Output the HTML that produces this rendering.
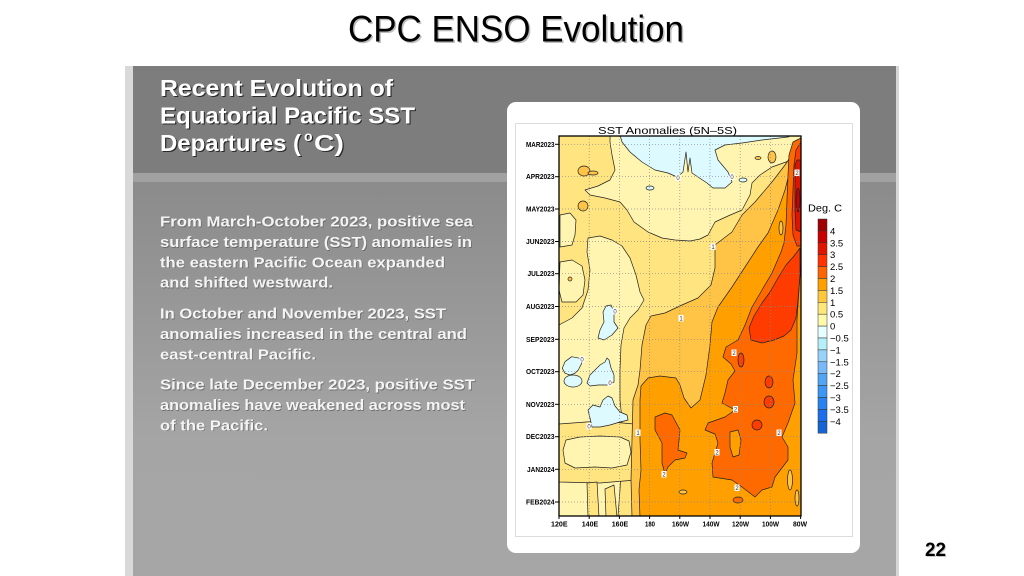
<!DOCTYPE html>
<html>
<head>
<meta charset="utf-8">
<style>
html,body{margin:0;padding:0;background:#fff;}
svg{display:block;}
</style>
</head>
<body>
<svg xmlns="http://www.w3.org/2000/svg" width="1024" height="576" viewBox="0 0 1024 576">
<defs>
<linearGradient id="bodyg" x1="0" y1="0" x2="0" y2="1">
<stop offset="0" stop-color="#8b8b8b"/>
<stop offset="0.65" stop-color="#a5a5a5"/>
<stop offset="1" stop-color="#a6a6a6"/>
</linearGradient>
<clipPath id="pc"><rect x="559" y="136" width="242" height="380"/></clipPath>
</defs>

<rect x="0" y="0" width="1024" height="576" fill="#ffffff"/>

<!-- gray panel -->
<rect x="125" y="66" width="8" height="510" fill="#d9d9d9"/>
<rect x="896" y="66" width="3" height="510" fill="#d6d6d6"/>
<rect x="133" y="66" width="763" height="107" fill="#7d7d7d"/>
<rect x="133" y="173" width="763" height="9" fill="#a1a1a1"/>
<rect x="133" y="182" width="763" height="394" fill="url(#bodyg)"/>

<!-- slide title -->
<text x="349.5" y="43" font-family="Liberation Sans, sans-serif" font-size="37" fill="#bdbdbd" textLength="336" lengthAdjust="spacingAndGlyphs">CPC ENSO Evolution</text>
<text x="348" y="41.5" font-family="Liberation Sans, sans-serif" font-size="37" fill="#000" textLength="336" lengthAdjust="spacingAndGlyphs">CPC ENSO Evolution</text>

<!-- heading -->
<g font-family="Liberation Sans, sans-serif" font-weight="bold" font-size="23">
<g fill="#2a2a2a" transform="translate(1.2,1.2)">
<text x="160" y="96" textLength="233" lengthAdjust="spacingAndGlyphs">Recent Evolution of</text>
<text x="160" y="123.5" textLength="255" lengthAdjust="spacingAndGlyphs">Equatorial Pacific SST</text>
<text x="160" y="151" textLength="141" lengthAdjust="spacingAndGlyphs">Departures (</text>
<text x="304" y="141" font-size="14">o</text>
<text x="314" y="151" textLength="30" lengthAdjust="spacingAndGlyphs">C)</text>
</g>
<g fill="#ffffff">
<text x="160" y="96" textLength="233" lengthAdjust="spacingAndGlyphs">Recent Evolution of</text>
<text x="160" y="123.5" textLength="255" lengthAdjust="spacingAndGlyphs">Equatorial Pacific SST</text>
<text x="160" y="151" textLength="141" lengthAdjust="spacingAndGlyphs">Departures (</text>
<text x="304" y="141" font-size="14">o</text>
<text x="314" y="151" textLength="30" lengthAdjust="spacingAndGlyphs">C)</text>
</g>
</g>

<!-- body text -->
<g font-family="Liberation Sans, sans-serif" font-weight="bold" font-size="15">
<g fill="#5a5a5a" transform="translate(0.8,0.8)" opacity="0.7">
<text x="160" y="226.5" textLength="313" lengthAdjust="spacingAndGlyphs">From March-October 2023, positive sea</text>
<text x="160" y="247" textLength="312" lengthAdjust="spacingAndGlyphs">surface temperature (SST) anomalies in</text>
<text x="160" y="267.3" textLength="285" lengthAdjust="spacingAndGlyphs">the eastern Pacific Ocean expanded</text>
<text x="160" y="287.5" textLength="173" lengthAdjust="spacingAndGlyphs">and shifted westward.</text>
<text x="160" y="318.5" textLength="286" lengthAdjust="spacingAndGlyphs">In October and November 2023, SST</text>
<text x="160" y="339" textLength="307" lengthAdjust="spacingAndGlyphs">anomalies increased in the central and</text>
<text x="160" y="359.3" textLength="156" lengthAdjust="spacingAndGlyphs">east-central Pacific.</text>
<text x="160" y="389.5" textLength="315" lengthAdjust="spacingAndGlyphs">Since late December 2023, positive SST</text>
<text x="160" y="410" textLength="305" lengthAdjust="spacingAndGlyphs">anomalies have weakened across most</text>
<text x="160" y="430.3" textLength="108" lengthAdjust="spacingAndGlyphs">of the Pacific.</text>
</g>
<g fill="#f4f4f4">
<text x="160" y="226.5" textLength="313" lengthAdjust="spacingAndGlyphs">From March-October 2023, positive sea</text>
<text x="160" y="247" textLength="312" lengthAdjust="spacingAndGlyphs">surface temperature (SST) anomalies in</text>
<text x="160" y="267.3" textLength="285" lengthAdjust="spacingAndGlyphs">the eastern Pacific Ocean expanded</text>
<text x="160" y="287.5" textLength="173" lengthAdjust="spacingAndGlyphs">and shifted westward.</text>
<text x="160" y="318.5" textLength="286" lengthAdjust="spacingAndGlyphs">In October and November 2023, SST</text>
<text x="160" y="339" textLength="307" lengthAdjust="spacingAndGlyphs">anomalies increased in the central and</text>
<text x="160" y="359.3" textLength="156" lengthAdjust="spacingAndGlyphs">east-central Pacific.</text>
<text x="160" y="389.5" textLength="315" lengthAdjust="spacingAndGlyphs">Since late December 2023, positive SST</text>
<text x="160" y="410" textLength="305" lengthAdjust="spacingAndGlyphs">anomalies have weakened across most</text>
<text x="160" y="430.3" textLength="108" lengthAdjust="spacingAndGlyphs">of the Pacific.</text>
</g>
</g>

<!-- white chart box -->
<rect x="507" y="102" width="353" height="451" rx="9" ry="9" fill="#ffffff"/>
<rect x="515.5" y="123.5" width="337" height="413" fill="none" stroke="#dcdcdc" stroke-width="1"/>

<!-- chart title -->
<text x="598" y="134" font-family="Liberation Sans, sans-serif" font-size="10.5" fill="#000" textLength="139" lengthAdjust="spacingAndGlyphs">SST Anomalies (5N–5S)</text>

<!-- plot fills -->
<g clip-path="url(#pc)" stroke="#222" stroke-width="0.7" stroke-linejoin="round">
<rect x="559" y="136" width="242" height="380" fill="#ffe480" stroke="none"/>

<!-- pale 0-0.5 -->
<polygon fill="#fff5b0" points="610,136 801,136 801,156 786,162 772,167 760,175 752,183 750,195 742,210 728,216 715,222 708,235 700,239 690,241 675,240 662,238 648,232 634,222 627,210 620,202 605,198 590,195 585,190 598,186 610,180 615,170 612,155 610,142"/>
<polygon fill="#fff5b0" points="560,215 570,213 576,220 575,235 572,245 560,247"/>
<polygon fill="#fff5b0" points="560,262 572,260 582,266 585,280 583,295 576,302 562,302 559,290"/>
<polygon fill="#fff5b0" points="588,238 600,236 612,240 622,246 630,258 636,275 640,292 644,300 638,310 630,318 624,328 621,345 620,370 620,400 622,420 620,440 621,470 620,490 618,516 559,516 559,325 572,318 582,308 588,290 590,270 587,252"/>
<polygon fill="#ffe480" points="559,424 600,421 634,424 636,480 600,483 559,482"/>
<polygon fill="#fff5b0" points="566,440 580,437 600,436 620,437 629,441 631,452 627,465 612,468 595,467 575,468 565,463 563,450"/>
<polygon fill="#ffe480" points="587,483 597,482 599,517 588,517"/>
<polygon fill="#ffe480" points="605,489 614,485 617,517 606,517"/>
<ellipse cx="570" cy="279" rx="2" ry="2" fill="#ffc445"/>

<!-- 1-1.5 -->
<polygon fill="#ffc445" points="801,140 795,150 785,165 772,182 755,202 742,215 732,232 715,245 715,268 711,285 698,298 682,305 665,313 651,316 646,325 642,345 640,370 638,385 633,400 632,440 631,480 632,517 801,517"/>
<ellipse cx="584" cy="171" rx="6" ry="5" fill="#ffc445"/>
<ellipse cx="593" cy="173" rx="5" ry="2" fill="#ffc445"/>
<ellipse cx="583" cy="206" rx="5" ry="5" fill="#ffc445"/>
<ellipse cx="772" cy="157" rx="4" ry="6" fill="#ffc445"/>
<ellipse cx="758" cy="158" rx="3" ry="1.5" fill="#ffc445"/>

<!-- 1.5-2 -->
<polygon fill="#ffa000" points="801,138 796,150 790,170 785,190 778,210 768,233 758,247 745,267 732,287 718,307 712,322 710,345 706,375 700,400 691,408 684,398 680,385 676,378 660,376 648,378 641,386 640,400 640,440 641,470 639,490 640,517 801,517"/>
<ellipse cx="781" cy="228" rx="2" ry="7" fill="#ffc445"/>
<ellipse cx="683" cy="492" rx="4" ry="2" fill="#ffc445"/>
<ellipse cx="790" cy="480" rx="2.5" ry="10" fill="#ffc445"/>
<ellipse cx="797" cy="498" rx="2" ry="8" fill="#ffc445"/>

<!-- 2-2.5 -->
<polygon fill="#ff6a00" points="801,138 793,142 789,155 788,175 787,200 786,225 784,243 781,252 772,273 762,290 752,307 745,325 738,340 726,347 723,357 731,364 735,371 728,380 725,393 722,403 735,410 725,417 708,423 705,430 715,434 718,443 712,463 713,477 732,480 742,487 755,497 762,490 772,487 775,477 788,460 788,447 782,437 788,423 795,403 793,380 797,353 797,320 799,290 801,260"/>
<polygon fill="#ff6a00" points="655,417 665,413 672,415 680,430 678,450 687,453 685,458 675,460 668,467 665,474 662,463 662,443 655,430"/>
<ellipse cx="738" cy="500" rx="5" ry="3" fill="#ff6a00"/>
<polygon fill="#ffa000" points="730,432 738,430 741,440 739,455 733,457 730,447"/>

<!-- 2.5-3 -->
<polygon fill="#ff3c00" points="800,248 794,256 786,265 778,278 770,292 762,303 754,316 749,328 751,340 762,343 774,340 784,336 791,330 796,318 798,300 800,275"/>
<ellipse cx="769" cy="382" rx="4" ry="6" fill="#ff3c00"/>
<ellipse cx="769" cy="402" rx="5" ry="6" fill="#ff3c00"/>
<ellipse cx="757" cy="425" rx="5" ry="5" fill="#ff3c00"/>
<ellipse cx="741" cy="360" rx="3" ry="7" fill="#ff3c00"/>
<polygon fill="#ff3c00" points="801,142 796,150 794,165 793,190 792,215 793,235 797,246 801,246"/>
<polygon fill="#e11400" points="795,165 797,160 801,160 801,232 796,230 795,210"/>
<ellipse cx="798" cy="200" rx="2" ry="12" fill="#c80000"/>

<!-- negative 0 to -0.5 -->
<polygon fill="#dcfaff" points="620,135 622,142 630,152 642,162 655,170 668,173 677,177 683,172 686,152 688,172 690,158 692,173 698,177 707,183 713,188 725,188 732,182 728,172 718,160 715,150 725,145 742,143 762,140 788,137 792,135"/>
<ellipse cx="650" cy="188" rx="4" ry="2" fill="#dcfaff"/>
<ellipse cx="743" cy="180" rx="4" ry="2" fill="#dcfaff"/>
<polygon fill="#dcfaff" points="565,361.7 571.7,356.7 580,358.3 581.7,363.3 578.3,370 575,373.3 570,375 565,373.3 562.3,368.3"/>
<ellipse cx="573" cy="381" rx="9" ry="6" fill="#dcfaff"/>
<polygon fill="#dcfaff" points="587,383 590,375 595,370 600,365 605,362 607,358 609,360 611,368 614,375 614,382 608,385 598,385 590,386"/>
<polygon fill="#dcfaff" points="590,418 588,410 593,405 600,407 603,400 608,396 612,398 615,406 620,412 627,415 628,420 620,422 610,425 600,427 592,427"/>
<polygon fill="#dcfaff" points="606,306 611,305 614,312 614,322 618,328 612,335 604,340 598,338 600,330 604,322 603,312"/>
</g>

<!-- grid lines -->
<g stroke="#8a8a8a" stroke-width="0.7" stroke-dasharray="1 2" fill="none">
<line x1="589.2" y1="136" x2="589.2" y2="516"/>
<line x1="619.4" y1="136" x2="619.4" y2="516"/>
<line x1="649.6" y1="136" x2="649.6" y2="516"/>
<line x1="679.8" y1="136" x2="679.8" y2="516"/>
<line x1="710" y1="136" x2="710" y2="516"/>
<line x1="740.2" y1="136" x2="740.2" y2="516"/>
<line x1="770.4" y1="136" x2="770.4" y2="516"/>
<line x1="559" y1="144.3" x2="801" y2="144.3"/>
<line x1="559" y1="176.7" x2="801" y2="176.7"/>
<line x1="559" y1="209" x2="801" y2="209"/>
<line x1="559" y1="241.5" x2="801" y2="241.5"/>
<line x1="559" y1="273.7" x2="801" y2="273.7"/>
<line x1="559" y1="306.5" x2="801" y2="306.5"/>
<line x1="559" y1="339.3" x2="801" y2="339.3"/>
<line x1="559" y1="371.7" x2="801" y2="371.7"/>
<line x1="559" y1="404.3" x2="801" y2="404.3"/>
<line x1="559" y1="436.7" x2="801" y2="436.7"/>
<line x1="559" y1="469.3" x2="801" y2="469.3"/>
<line x1="559" y1="502" x2="801" y2="502"/>
</g>

<!-- contour labels -->
<g font-family="Liberation Sans, sans-serif" font-size="6" text-anchor="middle" fill="#333">
<g fill="#ffffff" stroke="none">
<rect x="675.5" y="174.5" width="5" height="6.5"/>
<rect x="729.5" y="173.5" width="5" height="6.5"/>
<rect x="710.5" y="243.5" width="5" height="6.5"/>
<rect x="678.5" y="315" width="5" height="6.5"/>
<rect x="794.5" y="169.5" width="5" height="6.5"/>
<rect x="579.5" y="356" width="5" height="6.5"/>
<rect x="607.5" y="379.5" width="5" height="6.5"/>
<rect x="586.5" y="423" width="5" height="6.5"/>
<rect x="635.5" y="429.5" width="5" height="6.5"/>
<rect x="731.5" y="349.5" width="5" height="6.5"/>
<rect x="733" y="406" width="5" height="6.5"/>
<rect x="776.5" y="429.5" width="5" height="6.5"/>
<rect x="714.5" y="449" width="5" height="6.5"/>
<rect x="661.5" y="471" width="5" height="6.5"/>
<rect x="734.5" y="484.5" width="5" height="6.5"/>
<rect x="612.5" y="308" width="5" height="6.5"/>
</g>
<text x="678" y="180">0</text>
<text x="732" y="179">0</text>
<text x="713" y="249">1</text>
<text x="681" y="320.5">1</text>
<text x="797" y="175">2</text>
<text x="582" y="361.5">0</text>
<text x="610" y="385">0</text>
<text x="589" y="428.5">0</text>
<text x="638" y="435">1</text>
<text x="734" y="355">2</text>
<text x="735.5" y="411.5">2</text>
<text x="779" y="435">2</text>
<text x="717" y="454.5">2</text>
<text x="664" y="476.5">2</text>
<text x="737" y="490">2</text>
<text x="615" y="313.5">0</text>
</g>

<!-- plot border & ticks -->
<rect x="559" y="136" width="242" height="380" fill="none" stroke="#000" stroke-width="1.3"/>
<g stroke="#000" stroke-width="1">
<line x1="555" y1="144.3" x2="559" y2="144.3"/>
<line x1="555" y1="176.7" x2="559" y2="176.7"/>
<line x1="555" y1="209" x2="559" y2="209"/>
<line x1="555" y1="241.5" x2="559" y2="241.5"/>
<line x1="555" y1="273.7" x2="559" y2="273.7"/>
<line x1="555" y1="306.5" x2="559" y2="306.5"/>
<line x1="555" y1="339.3" x2="559" y2="339.3"/>
<line x1="555" y1="371.7" x2="559" y2="371.7"/>
<line x1="555" y1="404.3" x2="559" y2="404.3"/>
<line x1="555" y1="436.7" x2="559" y2="436.7"/>
<line x1="555" y1="469.3" x2="559" y2="469.3"/>
<line x1="555" y1="502" x2="559" y2="502"/>
<line x1="559" y1="516" x2="559" y2="519"/>
<line x1="589.2" y1="516" x2="589.2" y2="519"/>
<line x1="619.4" y1="516" x2="619.4" y2="519"/>
<line x1="649.6" y1="516" x2="649.6" y2="519"/>
<line x1="679.8" y1="516" x2="679.8" y2="519"/>
<line x1="710" y1="516" x2="710" y2="519"/>
<line x1="740.2" y1="516" x2="740.2" y2="519"/>
<line x1="770.4" y1="516" x2="770.4" y2="519"/>
<line x1="800.6" y1="516" x2="800.6" y2="519"/>
</g>

<!-- y labels -->
<g font-family="Liberation Sans, sans-serif" font-weight="bold" font-size="7" text-anchor="end" fill="#000">
<text x="554.5" y="146.8" textLength="28.5" lengthAdjust="spacingAndGlyphs">MAR2023</text>
<text x="554.5" y="179.2" textLength="28.5" lengthAdjust="spacingAndGlyphs">APR2023</text>
<text x="554.5" y="211.5" textLength="28.5" lengthAdjust="spacingAndGlyphs">MAY2023</text>
<text x="554.5" y="244" textLength="28.5" lengthAdjust="spacingAndGlyphs">JUN2023</text>
<text x="554.5" y="276.2" textLength="27" lengthAdjust="spacingAndGlyphs">JUL2023</text>
<text x="554.5" y="309" textLength="28.5" lengthAdjust="spacingAndGlyphs">AUG2023</text>
<text x="554.5" y="341.8" textLength="28.5" lengthAdjust="spacingAndGlyphs">SEP2023</text>
<text x="554.5" y="374.2" textLength="28.5" lengthAdjust="spacingAndGlyphs">OCT2023</text>
<text x="554.5" y="406.8" textLength="28.5" lengthAdjust="spacingAndGlyphs">NOV2023</text>
<text x="554.5" y="439.2" textLength="28.5" lengthAdjust="spacingAndGlyphs">DEC2023</text>
<text x="554.5" y="471.8" textLength="27.5" lengthAdjust="spacingAndGlyphs">JAN2024</text>
<text x="554.5" y="504.5" textLength="28.5" lengthAdjust="spacingAndGlyphs">FEB2024</text>
</g>

<!-- x labels -->
<g font-family="Liberation Sans, sans-serif" font-weight="bold" font-size="7" text-anchor="middle" fill="#000">
<text x="559.3" y="526.5" textLength="16.5" lengthAdjust="spacingAndGlyphs">120E</text>
<text x="590" y="526.5" textLength="16.5" lengthAdjust="spacingAndGlyphs">140E</text>
<text x="620" y="526.5" textLength="16.5" lengthAdjust="spacingAndGlyphs">160E</text>
<text x="650" y="526.5" textLength="10" lengthAdjust="spacingAndGlyphs">180</text>
<text x="680.5" y="526.5" textLength="17" lengthAdjust="spacingAndGlyphs">160W</text>
<text x="711" y="526.5" textLength="17" lengthAdjust="spacingAndGlyphs">140W</text>
<text x="740.5" y="526.5" textLength="17" lengthAdjust="spacingAndGlyphs">120W</text>
<text x="770.5" y="526.5" textLength="17" lengthAdjust="spacingAndGlyphs">100W</text>
<text x="800" y="526.5" textLength="14" lengthAdjust="spacingAndGlyphs">80W</text>
</g>

<!-- colorbar -->
<text x="808" y="211.5" font-family="Liberation Sans, sans-serif" font-size="10" fill="#000" textLength="34" lengthAdjust="spacingAndGlyphs">Deg. C</text>
<g stroke="#333" stroke-width="0.5">
<rect x="818" y="219" width="9" height="11.9" fill="#a00000"/>
<rect x="818" y="230.9" width="9" height="11.9" fill="#c80000"/>
<rect x="818" y="242.8" width="9" height="11.9" fill="#e11400"/>
<rect x="818" y="254.7" width="9" height="11.9" fill="#ff3200"/>
<rect x="818" y="266.6" width="9" height="11.9" fill="#ff6400"/>
<rect x="818" y="278.5" width="9" height="11.9" fill="#ffa000"/>
<rect x="818" y="290.4" width="9" height="11.9" fill="#ffc83c"/>
<rect x="818" y="302.3" width="9" height="11.9" fill="#ffe678"/>
<rect x="818" y="314.2" width="9" height="11.9" fill="#fffaaa"/>
<rect x="818" y="326.1" width="9" height="11.9" fill="#e6ffff"/>
<rect x="818" y="338" width="9" height="11.9" fill="#b4f0fa"/>
<rect x="818" y="349.9" width="9" height="11.9" fill="#96d2fa"/>
<rect x="818" y="361.8" width="9" height="11.9" fill="#78b9fa"/>
<rect x="818" y="373.7" width="9" height="11.9" fill="#50a5f5"/>
<rect x="818" y="385.6" width="9" height="11.9" fill="#3c96f5"/>
<rect x="818" y="397.5" width="9" height="11.9" fill="#2882f0"/>
<rect x="818" y="409.4" width="9" height="11.9" fill="#1e6eeb"/>
<rect x="818" y="421.3" width="9" height="11.9" fill="#1464d2"/>
</g>
<g font-family="Liberation Sans, sans-serif" font-size="9.5" fill="#000">
<text x="830" y="234.4">4</text>
<text x="830" y="246.3">3.5</text>
<text x="830" y="258.2">3</text>
<text x="830" y="270.1">2.5</text>
<text x="830" y="282">2</text>
<text x="830" y="293.9">1.5</text>
<text x="830" y="305.8">1</text>
<text x="830" y="317.7">0.5</text>
<text x="830" y="329.6">0</text>
<text x="830" y="341.5">−0.5</text>
<text x="830" y="353.4">−1</text>
<text x="830" y="365.3">−1.5</text>
<text x="830" y="377.2">−2</text>
<text x="830" y="389.1">−2.5</text>
<text x="830" y="401">−3</text>
<text x="830" y="412.9">−3.5</text>
<text x="830" y="424.8">−4</text>
</g>

<!-- page number -->
<text x="926" y="557" font-family="Liberation Sans, sans-serif" font-weight="bold" font-size="19" fill="#c8c8c8" textLength="21" lengthAdjust="spacingAndGlyphs">22</text>
<text x="925" y="556" font-family="Liberation Sans, sans-serif" font-weight="bold" font-size="19" fill="#000" textLength="21" lengthAdjust="spacingAndGlyphs">22</text>
</svg>
</body>
</html>
